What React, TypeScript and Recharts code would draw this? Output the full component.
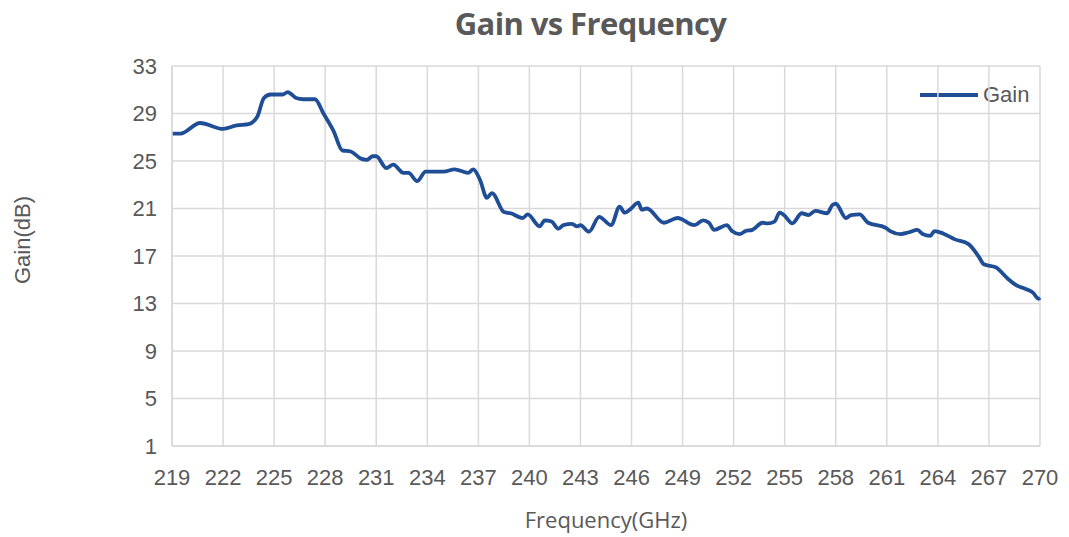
import React from 'react';
import { LineChart, Line, XAxis, YAxis, CartesianGrid } from 'recharts';

// frequency points (GHz)
const freqs = [
  219, 219.5, 220.65, 222.0, 222.8, 223.5, 224.0, 224.4, 224.8, 225.5, 225.8, 226.3, 226.7,
  227.4, 227.9, 228.5, 229.0, 229.5, 230.1, 230.45, 230.8, 231.0, 231.6, 232.0, 232.6, 232.9,
  233.4, 233.9, 234.96, 235.6, 236.4, 236.7, 237.1, 237.5, 237.8, 238.5, 238.9, 239.6, 239.9,
  240.6, 240.9, 241.3, 241.7, 242.0, 242.5, 242.8, 243.0, 243.5, 244.1, 244.8, 245.3, 245.6,
  245.9, 246.4, 246.6, 246.9, 247.9, 248.7, 249.7, 250.2, 250.55, 250.85, 251.6, 251.9, 252.35,
  252.7, 253.1, 253.7, 254.0, 254.4, 254.7, 254.95, 255.45, 256.0, 256.4, 256.8, 257.5, 257.8,
  258.0, 258.6, 258.9, 259.4, 259.9, 260.9, 261.2, 261.8, 262.3, 262.8, 263.1, 263.55, 263.8,
  264.3, 265.0, 265.8, 266.4, 266.7, 267.4, 268.1, 268.6, 269.2, 269.6, 269.9, 270,
];

const gains = [
  27.3, 27.3, 28.2, 27.7, 28.0, 28.1, 28.7, 30.3, 30.6, 30.6, 30.8, 30.3, 30.2,
  30.2, 29.0, 27.5, 25.9, 25.8, 25.2, 25.1, 25.4, 25.4, 24.4, 24.7, 24.0, 24.0,
  23.3, 24.1, 24.1, 24.3, 24.0, 24.3, 23.4, 21.9, 22.3, 20.7, 20.6, 20.2, 20.5,
  19.5, 20.0, 19.9, 19.3, 19.6, 19.7, 19.5, 19.6, 19.05, 20.3, 19.6, 21.15, 20.65,
  20.9, 21.5, 20.9, 21.0, 19.8, 20.2, 19.6, 20.0, 19.8, 19.2, 19.6, 19.1, 18.85,
  19.1, 19.2, 19.8, 19.75, 19.9, 20.65, 20.45, 19.75, 20.6, 20.45, 20.8, 20.6, 21.3,
  21.4, 20.2, 20.45, 20.5, 19.8, 19.4, 19.1, 18.85, 19.0, 19.2, 18.85, 18.7, 19.1,
  18.9, 18.4, 18.0, 16.95, 16.3, 16.05, 15.1, 14.55, 14.2, 13.9, 13.4, 13.5,
];

const xTicks = [219, 222, 225, 228, 231, 234, 237, 240, 243, 246, 249, 252, 255, 258, 261, 264, 267, 270];
const yTicks = [1, 5, 9, 13, 17, 21, 25, 29, 33];

const data = freqs.map((f, i) => ({ freq: f, gain: gains[i] }));

const textColor = '#595959';
const lineColor = '#1F4E96';
const arial = '"Liberation Sans", Arial, sans-serif';

export default function App() {
  return (
    <div style={{ position: 'absolute', left: 0, top: 0, width: 1069, height: 537, background: '#fff' }}>
      <div
        style={{
          position: 'absolute', left: 0, width: 1069, top: 2, textAlign: 'center',
          paddingLeft: 112, boxSizing: 'border-box',
          fontFamily: '"Open Sans", sans-serif', fontWeight: 700, fontSize: 31,
          color: textColor, letterSpacing: -0.6,
        }}
      >
        Gain vs Frequency
      </div>
      <div
        style={{
          position: 'absolute', left: 23, top: 240, transform: 'translate(-50%, -50%) rotate(-90deg)',
          fontFamily: arial, fontSize: 22, color: textColor, whiteSpace: 'nowrap',
        }}
      >
        Gain(dB)
      </div>
      {/* legend drawn inside the plot, top right */}
      <div
        style={{
          position: 'absolute', left: 920, top: 82, display: 'flex', alignItems: 'center',
          fontFamily: arial, fontSize: 22, color: textColor,
        }}
      >
        <span style={{ display: 'inline-block', width: 58, height: 4, background: lineColor, marginRight: 5 }} />
        Gain
      </div>
      <LineChart
        width={1069}
        height={537}
        data={data}
        margin={{ top: 66, right: 29, bottom: 0, left: 0 }}
      >
        <CartesianGrid stroke="#d9d9d9" strokeWidth={1.5} />
        <XAxis
          dataKey="freq"
          type="number"
          domain={[219, 270]}
          ticks={xTicks}
          interval={0}
          height={91}
          tickSize={0}
          tickMargin={23}
          axisLine={{ stroke: '#d9d9d9', strokeWidth: 1.5 }}
          tickLine={false}
          tick={{ fill: textColor, fontSize: 22, fontFamily: arial }}
          label={{
            value: 'Frequency(GHz)', position: 'insideBottom', offset: 9,
            fill: textColor, fontSize: 22, fontFamily: '"Open Sans", sans-serif',
          }}
        />
        <YAxis
          type="number"
          domain={[1, 33]}
          ticks={yTicks}
          interval={0}
          width={172}
          tickSize={0}
          tickMargin={15}
          axisLine={{ stroke: '#d9d9d9', strokeWidth: 1.5 }}
          tickLine={false}
          tick={{ fill: textColor, fontSize: 22, fontFamily: arial }}
        />
        <Line
          type="monotone"
          dataKey="gain"
          name="Gain"
          stroke={lineColor}
          strokeWidth={3.8}
          dot={false}
          isAnimationActive={false}
        />
      </LineChart>
    </div>
  );
}
